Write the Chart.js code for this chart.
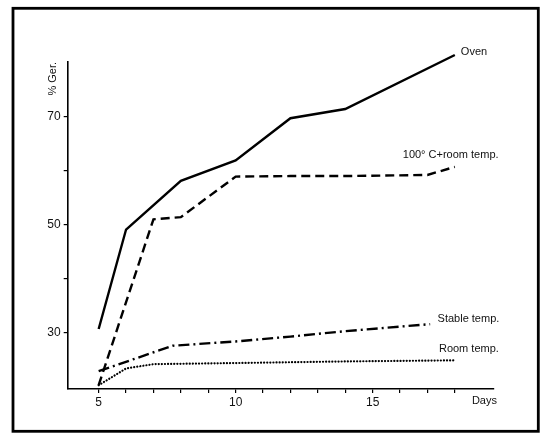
<!DOCTYPE html>
<html>
<head>
<meta charset="utf-8">
<script src="https://cdn.jsdelivr.net/npm/chart.js@4"></script>
<style>
  body { margin: 0; background: #fff; }
  #wrap { width: 550px; height: 442px; }
</style>
</head>
<body>
<div id="wrap"><canvas id="chart"></canvas></div>
<script>
// values (days, % germination)
const ovenDays = [5, 6, 8, 10, 12, 14, 18];
const ovenVals = [30.7, 49.1, 58.1, 61.9, 69.7, 71.4, 81.4];

const heatDays = [5, 7, 8, 10, 12, 14, 17, 18];
const heatVals = [20.3, 51.0, 51.4, 58.9, 59.0, 59.0, 59.2, 60.7];

const stableDays = [5, 7.7, 10, 12, 14, 17.1];
const stableVals = [22.9, 27.6, 28.4, 29.3, 30.3, 31.6];

const roomDays = [5, 6, 7, 10, 14, 18];
const roomVals = [20.3, 23.4, 24.2, 24.4, 24.7, 24.9];

const xTicks = [5, 6, 7, 8, 9, 10, 11, 12, 13, 14, 15, 16, 17, 18];
const xLabels = [5, 10, 15];
const yTicks = [30, 40, 50, 60, 70];
const yLabels = [30, 50, 70];

const FONT = "'Liberation Sans', Arial, sans-serif";

function pts(xs, ys) {
    return xs.map((x, i) => ({ x: x, y: ys[i] }));
}

function series(label, xs, ys, dash, width, cap) {
    return {
        label: label,
        data: pts(xs, ys),
        borderColor: "#000",
        borderWidth: width,
        borderDash: dash,
        borderCapStyle: cap || "butt",
        pointRadius: 0,
        tension: 0,
        fill: false,
        clip: false
    };
}

// line names and the frame around the figure
const notes = {
    id: "notes",
    afterDraw(chart) {
        const ctx = chart.ctx;
        const x = chart.scales.x, y = chart.scales.y;
        ctx.save();
        ctx.strokeStyle = "#000";
        ctx.lineWidth = 2.8;
        ctx.strokeRect(13, 8.3, 525.3, 423);

        ctx.fillStyle = "#111";
        ctx.font = "11px " + FONT;
        ctx.textBaseline = "middle";
        ctx.textAlign = "left";
        ctx.fillText("Oven", x.getPixelForValue(18.22), y.getPixelForValue(82.0));
        ctx.fillText("100\u00b0 C+room temp.", x.getPixelForValue(16.1), y.getPixelForValue(62.9));
        ctx.fillText("Stable temp.", x.getPixelForValue(17.37), y.getPixelForValue(32.6));
        ctx.fillText("Room temp.", x.getPixelForValue(17.42), y.getPixelForValue(27.0));

        ctx.textAlign = "center";
        ctx.fillText("Days", x.getPixelForValue(19.08), chart.chartArea.bottom + 12);

        ctx.translate(chart.chartArea.left - 14.5, y.getPixelForValue(77.0));
        ctx.rotate(-Math.PI / 2);
        ctx.fillText("% Ger.", 0, 0);
        ctx.restore();
    }
};

new Chart(document.getElementById("chart"), {
    type: "line",
    data: {
        datasets: [
            series("Oven", ovenDays, ovenVals, [], 2.4),
            series("100° C+room temp.", heatDays, heatVals, [9, 5], 2.4),
            series("Stable temp.", stableDays, stableVals, [11, 4, 2, 4], 2.4),
            series("Room temp.", roomDays, roomVals, [0.1, 3], 2.2, "round")
        ]
    },
    options: {
        responsive: true,
        maintainAspectRatio: false,
        animation: false,
        layout: { padding: { top: 62, right: 56, left: 0, bottom: 0 } },
        plugins: {
            legend: { display: false },
            tooltip: { enabled: false }
        },
        scales: {
            x: {
                type: "linear",
                min: 3.87,
                max: 19.43,
                afterBuildTicks: s => { s.ticks = xTicks.map(v => ({ value: v })); },
                afterFit: s => { s.height = 53; },
                grid: { drawOnChartArea: false, drawTicks: true, tickLength: 4, color: "#000", lineWidth: 1.2 },
                border: { display: true, color: "#000", width: 1.6 },
                ticks: {
                    color: "#111",
                    padding: 2,
                    maxRotation: 0,
                    autoSkip: false,
                    font: { family: FONT, size: 12 },
                    callback: v => xLabels.includes(v) ? String(v) : ""
                }
            },
            y: {
                type: "linear",
                min: 19.6,
                max: 80.1,
                afterBuildTicks: s => { s.ticks = yTicks.map(v => ({ value: v })); },
                afterFit: s => { s.width = 67.7; },
                grid: { drawOnChartArea: false, drawTicks: true, tickLength: 4, color: "#000", lineWidth: 1.2 },
                border: { display: true, color: "#000", width: 1.6 },
                ticks: {
                    color: "#111",
                    padding: 3,
                    autoSkip: false,
                    font: { family: FONT, size: 12 },
                    callback: v => yLabels.includes(v) ? String(v) : ""
                }
            }
        }
    },
    plugins: [notes]
});
</script>
</body>
</html>
